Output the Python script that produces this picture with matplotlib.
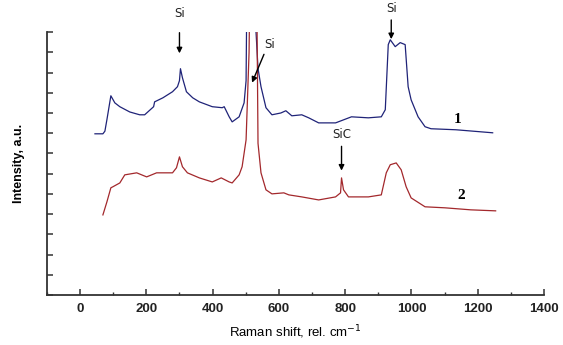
import matplotlib
matplotlib.use("Agg")
import matplotlib.pyplot as plt
from matplotlib.ticker import MultipleLocator, NullFormatter

# spectrum 1 (upper, blue)
shift_1 = [45, 69, 75, 81, 93, 105, 120, 150, 180, 195, 222, 225, 250, 279,
           294, 300, 303, 309, 321, 340, 360, 399, 429, 435, 450, 459, 480,
           495, 501, 506, 512, 527, 531, 537, 546, 561, 579, 606, 621, 639,
           669, 690, 720, 771, 819, 870, 909, 921, 930, 936, 951, 966, 981,
           990, 999, 1020, 1041, 1059, 1134, 1245]
intensity_1 = [7.97, 7.97, 8.1, 8.66, 9.85, 9.5, 9.31, 9.05, 8.91, 8.91,
               9.31, 9.55, 9.75, 10.05, 10.30, 10.6, 11.19, 10.74, 10.05,
               9.75, 9.55, 9.31, 9.26, 9.31, 8.81, 8.56, 8.81, 9.50, 10.6,
               20.0, 30.0, 20.0, 13.0, 11.2, 10.3, 9.26, 8.91, 9.0, 9.11,
               8.86, 8.91, 8.76, 8.51, 8.51, 8.81, 8.76, 8.81, 9.16, 12.38,
               12.62, 12.28, 12.48, 12.38, 10.30, 9.65, 8.81, 8.32, 8.22,
               8.17, 8.02]

# spectrum 2 (lower, red)
shift_2 = [69, 81, 93, 99, 120, 135, 171, 201, 231, 279, 291, 300, 309, 324,
           360, 399, 426, 450, 459, 480, 489, 501, 510, 516, 525, 534, 537,
           546, 561, 579, 615, 630, 669, 720, 771, 786, 789, 795, 810, 870,
           909, 924, 936, 954, 969, 984, 999, 1041, 1101, 1179, 1254]
intensity_2 = [3.96, 4.60, 5.30, 5.35, 5.54, 5.94, 6.04, 5.84, 6.04, 6.04,
               6.29, 6.83, 6.34, 6.04, 5.79, 5.59, 5.79, 5.59, 5.54, 5.94,
               6.34, 7.67, 12.0, 20.0, 30.0, 13.5, 7.5, 6.04, 5.20, 5.0, 5.05,
               4.95, 4.85, 4.70, 4.85, 5.05, 5.79, 5.20, 4.85, 4.85, 4.95,
               6.04, 6.44, 6.53, 6.19, 5.35, 4.80, 4.36, 4.31, 4.21, 4.16]

x_ticks = [0, 200, 400, 600, 800, 1000, 1200, 1400]

fig = plt.figure(figsize=(5.63, 3.45), dpi=100)
ax = fig.add_axes([0.0833, 0.145, 0.883, 0.762])

ax.plot(shift_1, intensity_1, color="#1f2378", lw=0.9)
ax.plot(shift_2, intensity_2, color="#a3282c", lw=0.9)

ax.set_xlim(-100, 1400)
ax.set_ylim(0, 13)

ax.spines["top"].set_visible(False)
ax.spines["right"].set_visible(False)
for side in ("left", "bottom"):
    ax.spines[side].set_linewidth(1.3)
    ax.spines[side].set_color("#333333")

ax.set_xticks(x_ticks)
ax.xaxis.set_minor_locator(MultipleLocator(100))
ax.yaxis.set_major_locator(MultipleLocator(1))
ax.yaxis.set_major_formatter(NullFormatter())
ax.tick_params(axis="both", which="major", direction="in", length=4,
               width=1.1, color="#333333")
ax.tick_params(axis="x", which="minor", direction="in", length=2.5,
               width=1.0, color="#333333")
ax.tick_params(axis="x", pad=6)
for lab in ax.get_xticklabels():
    lab.set_fontfamily("Liberation Sans")
    lab.set_fontweight("bold")
    lab.set_fontsize(9.5)
    lab.set_color("#222222")

ax.set_xlabel("Raman shift, rel. cm$^{-1}$", fontfamily="Liberation Sans",
              fontsize=9.5, labelpad=6)
ax.set_ylabel("Intensity, a.u.", fontfamily="Liberation Sans",
              fontweight="bold", fontsize=9, labelpad=12)

# peak labels
label_style = dict(fontsize=8.5, ha="center", va="center", color="#222222")
arrow_style = dict(arrowstyle="-|>", color="black", lw=1.0,
                   mutation_scale=8, shrinkA=0, shrinkB=0)

ax.annotate("", xy=(300, 11.95), xytext=(300, 12.97), arrowprops=arrow_style,
            annotation_clip=False)
ax.text(300, 13.9, "Si", clip_on=False, **label_style)

ax.annotate("", xy=(519, 10.5), xytext=(555, 11.9), arrowprops=arrow_style)
ax.text(572, 12.4, "Si", **label_style)

ax.annotate("", xy=(939, 12.65), xytext=(939, 13.6), arrowprops=arrow_style,
            annotation_clip=False)
ax.text(939, 14.15, "Si", clip_on=False, **label_style)

ax.annotate("", xy=(789, 6.15), xytext=(789, 7.35), arrowprops=arrow_style)
ax.text(789, 7.95, "SiC", **label_style)

ax.text(1140, 8.7, "1", fontfamily="Liberation Serif", fontweight="bold",
        fontsize=11, ha="center", va="center")
ax.text(1149, 4.9, "2", fontfamily="Liberation Serif", fontweight="bold",
        fontsize=11, ha="center", va="center")

fig.savefig("out.png", dpi=100)
